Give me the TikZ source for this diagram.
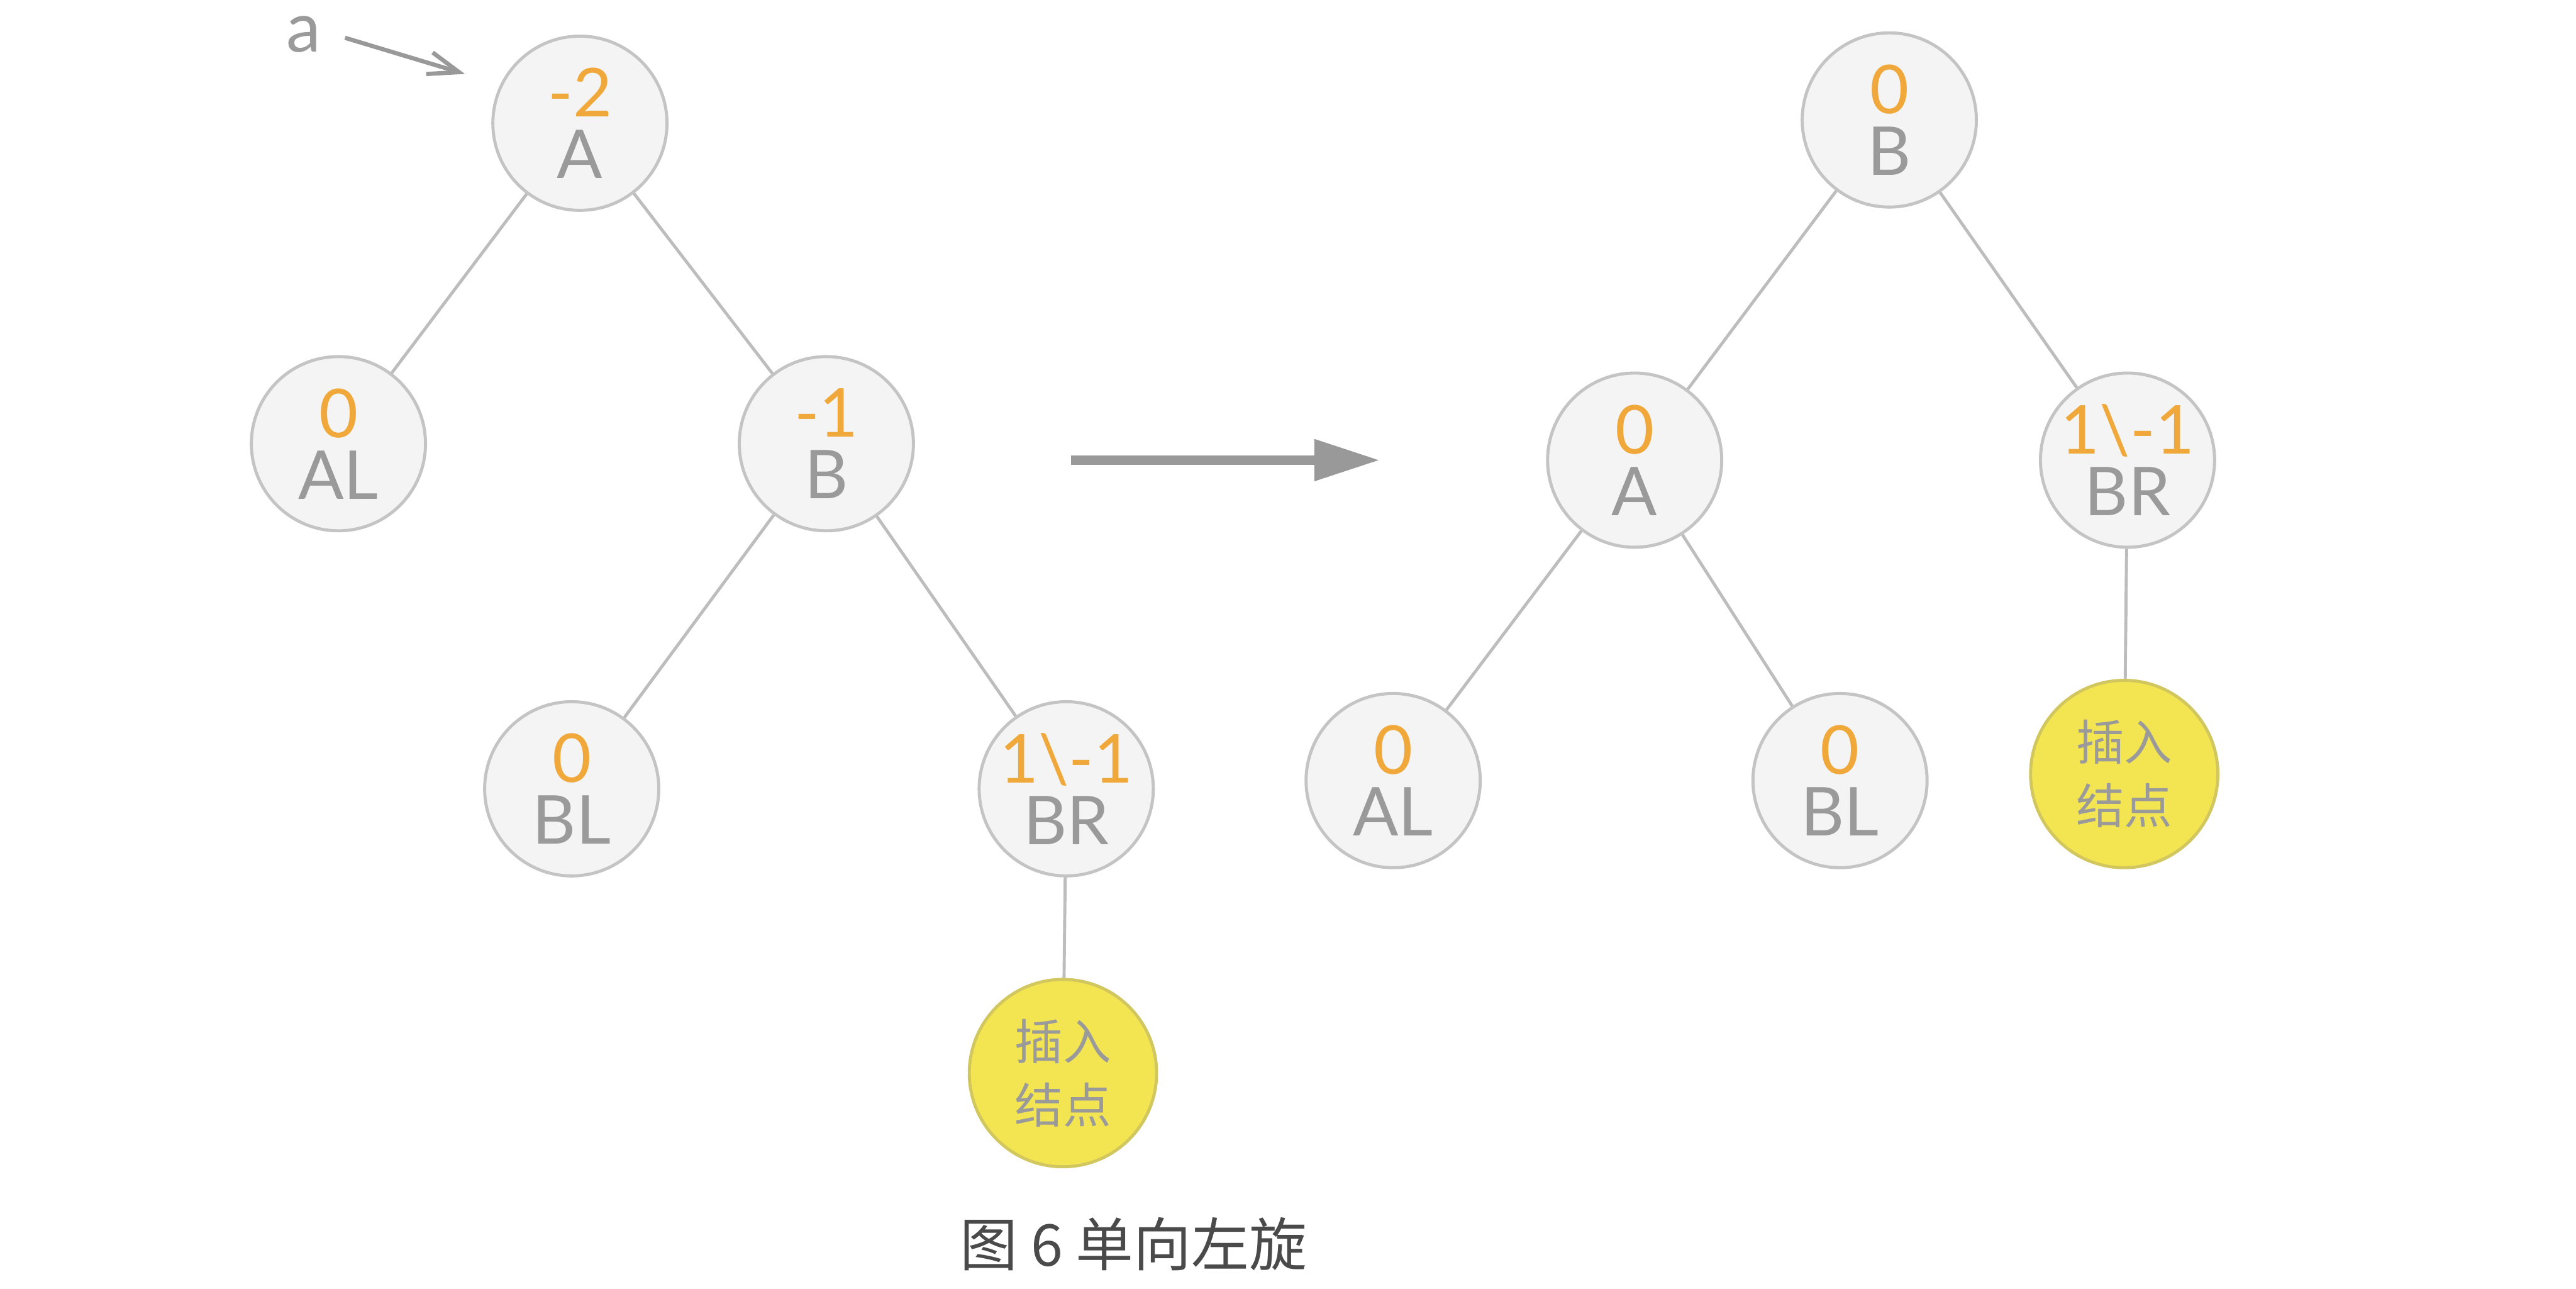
\documentclass[tikz,border=0pt]{standalone}
\usepackage{fontspec}
\setmainfont{Lato}
\newfontfamily\cjk{Noto Sans CJK SC}
\usetikzlibrary{arrows.meta}
\definecolor{nodefill}{HTML}{F4F4F4}
\definecolor{nodeline}{HTML}{C4C4C4}
\definecolor{edgec}{HTML}{BDBDBD}
\definecolor{numc}{HTML}{F0A83A}
\definecolor{letc}{HTML}{9A9A9A}
\definecolor{insfill}{HTML}{F3E552}
\definecolor{insline}{HTML}{D2C75E}
\definecolor{capc}{HTML}{4A4A4A}
\definecolor{arrc}{HTML}{999999}
\tikzset{
  tnode/.style={circle, minimum size=3.18cm, inner sep=0pt, fill=nodefill, draw=nodeline, line width=1.6pt,
    text=letc, align=center, font=\fontsize{35}{32}\selectfont},
  insnode/.style={circle, minimum size=3.42cm, inner sep=0pt, fill=insfill, draw=insline, line width=1.6pt,
    text=letc, align=center, font=\cjk\fontsize{25}{33}\selectfont},
  edge/.style={draw=edgec, line width=1.6pt},
  bigarrow/.style={draw=arrc, line width=0.18cm, -{Triangle[length=1.2cm,width=0.72cm]}},
  ptr/.style={draw=arrc, line width=2.2pt, -{Straight Barb[length=0.6cm,angle=40:0.6cm]}},
}
\newcommand{\nv}[2]{{\color{numc}#1}\\#2}
\begin{document}
\begin{tikzpicture}[x=0.03cm, y=-0.03cm]
\useasboundingbox (0,0) rectangle (1568,784);
% left tree
\node[tnode] (LA)  at (353,75)  {\nv{-2}{A}};
\node[tnode] (LAL) at (206,270) {\nv{0}{AL}};
\node[tnode] (LB)  at (503,270) {\nv{-1}{B}};
\node[tnode] (LBL) at (348,480) {\nv{0}{BL}};
\node[tnode] (LBR) at (649,480) {\nv{1\textbackslash-1}{BR}};
\node[insnode] (LI) at (647,653) {插入\\结点};
\draw[edge] (LA) -- (LAL);
\draw[edge] (LA) -- (LB);
\draw[edge] (LB) -- (LBL);
\draw[edge] (LB) -- (LBR);
\draw[edge] (LBR) -- (LI);
% pointer a
\node[text=letc, font=\fontsize{36}{36}\selectfont, inner sep=0pt] (alab) at (185,21) {a};
\coordinate (astart) at (210,23);
\coordinate (aend) at (283,45);
\draw[ptr] (astart) -- (aend);
% main arrow
\coordinate (m1) at (652,280);
\coordinate (m2) at (840,280);
\draw[bigarrow] (m1) -- (m2);
% right tree
\node[tnode] (RB)  at (1150,73)  {\nv{0}{B}};
\node[tnode] (RA)  at (995,280)  {\nv{0}{A}};
\node[tnode] (RBR) at (1295,280) {\nv{1\textbackslash-1}{BR}};
\node[tnode] (RAL) at (848,475)  {\nv{0}{AL}};
\node[tnode] (RBL) at (1120,475) {\nv{0}{BL}};
\node[insnode] (RI) at (1293,471) {插入\\结点};
\draw[edge] (RB) -- (RA);
\draw[edge] (RB) -- (RBR);
\draw[edge] (RA) -- (RAL);
\draw[edge] (RA) -- (RBL);
\draw[edge] (RBR) -- (RI);
% caption
\node[text=capc, font=\cjk\fontsize{30}{30}\selectfont] (cap) at (690,757) {图 6 单向左旋};
\end{tikzpicture}
\end{document}
